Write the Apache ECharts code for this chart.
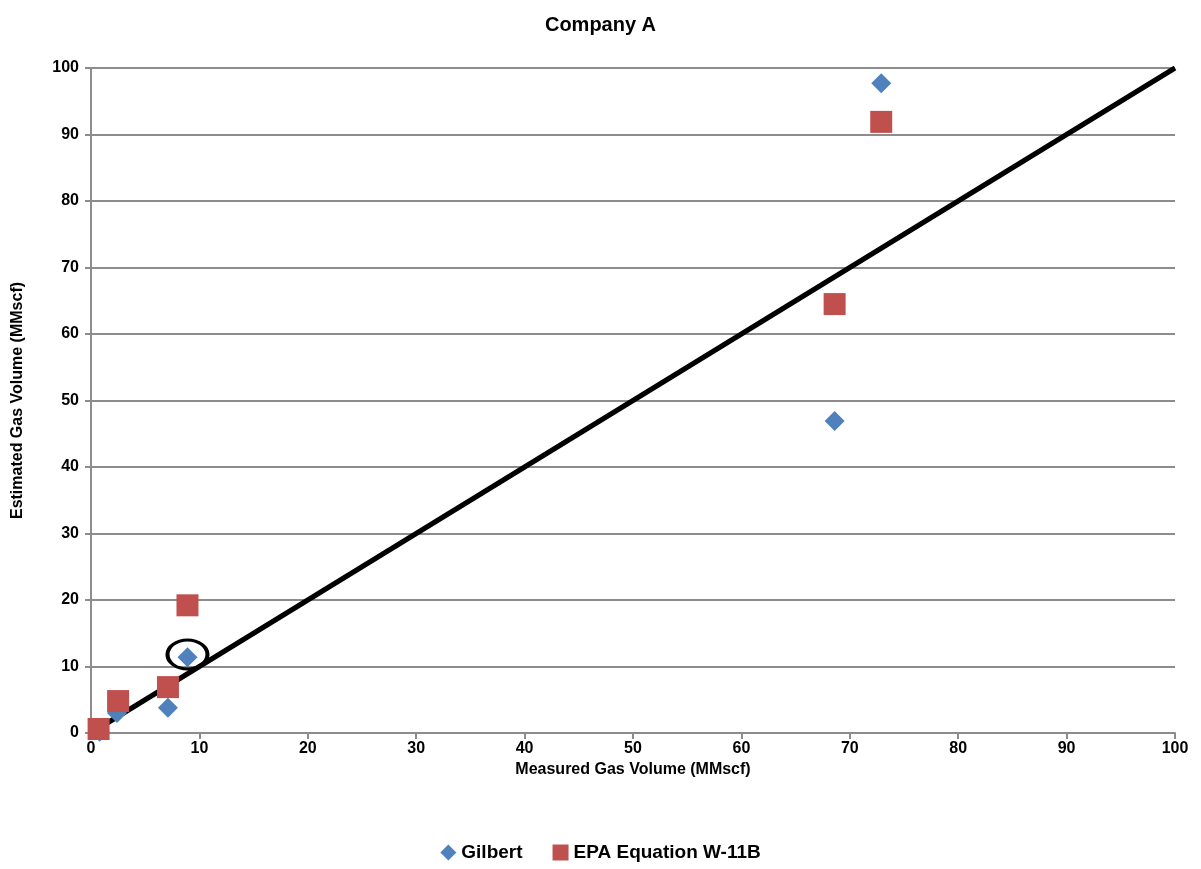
<!DOCTYPE html>
<html><head><meta charset="utf-8">
<script src="https://cdn.jsdelivr.net/npm/echarts@6/dist/echarts.min.js"></script>
<style>html,body{margin:0;padding:0;background:#fff}#c{width:1201px;height:869px}</style>
</head><body><div id="c"></div>
<script>
const gilbertX = [0.8, 2.4, 7.1, 8.9, 68.6, 72.9];
const gilbertY = [0.2, 3.0, 3.8, 11.4, 46.9, 97.7];
const epaX = [0.7, 2.5, 7.1, 8.9, 68.6, 72.9];
const epaY = [0.6, 4.8, 6.9, 19.2, 64.5, 91.9];
const lineX = [0, 100];
const lineY = [0, 100];
const highlightX = [8.9];
const highlightY = [11.8];

const zip = (a, b) => a.map((v, i) => [v, b[i]]);
const font = 'Liberation Sans, Arial, sans-serif';
const chart = echarts.init(document.getElementById('c'));
chart.setOption({
  backgroundColor: '#fff',
  animation: false,
  title: { text: 'Company A', left: 'center', top: 10,
    textStyle: { fontFamily: font, fontSize: 20, fontWeight: 'bold', color: '#000' } },
  grid: { left: 91, right: 26, top: 68, bottom: 136 },
  legend: { bottom: 2, left: 'center', itemGap: 30, itemWidth: 16, itemHeight: 16,
    data: [{ name: 'Gilbert', icon: 'diamond' }, { name: 'EPA Equation W-11B', icon: 'rect' }],
    textStyle: { fontFamily: font, fontSize: 19, fontWeight: 'bold', color: '#000' } },
  xAxis: { type: 'value', min: 0, max: 100, interval: 10,
    name: 'Measured Gas Volume (MMscf)', nameLocation: 'middle', nameGap: 28,
    nameTextStyle: { fontFamily: font, fontSize: 16, fontWeight: 'bold', color: '#000' },
    axisLine: { show: true, lineStyle: { color: '#8c8c8c', width: 2 } },
    axisTick: { show: true, length: 6, lineStyle: { color: '#8c8c8c', width: 2 } },
    axisLabel: { fontFamily: font, fontSize: 16, fontWeight: 'bold', color: '#000', margin: 8 },
    splitLine: { show: false } },
  yAxis: { type: 'value', min: 0, max: 100, interval: 10,
    name: 'Estimated Gas Volume (MMscf)', nameLocation: 'middle', nameGap: 65, nameRotate: 90,
    nameTextStyle: { fontFamily: font, fontSize: 16, fontWeight: 'bold', color: '#000' },
    axisLine: { show: true, lineStyle: { color: '#8c8c8c', width: 2 } },
    axisTick: { show: true, length: 6, lineStyle: { color: '#8c8c8c', width: 2 } },
    axisLabel: { fontFamily: font, fontSize: 16, fontWeight: 'bold', color: '#000', margin: 12 },
    splitLine: { show: true, lineStyle: { color: '#8c8c8c', width: 2 } } },
  series: [
    { name: 'line', type: 'line', data: zip(lineX, lineY), symbol: 'none', z: 2,
      lineStyle: { color: '#000', width: 5 } },
    { name: 'Gilbert', type: 'scatter', symbol: 'diamond', symbolSize: 20, z: 3,
      itemStyle: { color: '#4F81BD', opacity: 1 }, data: zip(gilbertX, gilbertY) },
    { name: 'EPA Equation W-11B', type: 'scatter', symbol: 'rect', symbolSize: 22, z: 4,
      itemStyle: { color: '#C0504D', opacity: 1 }, data: zip(epaX, epaY) },
    { name: 'highlight', type: 'scatter', symbol: 'circle', symbolSize: [40, 29], z: 6,
      itemStyle: { color: 'rgba(0,0,0,0)', borderColor: '#000', borderWidth: 3.5, opacity: 1 },
      data: zip(highlightX, highlightY) }
  ]
});
</script></body></html>
